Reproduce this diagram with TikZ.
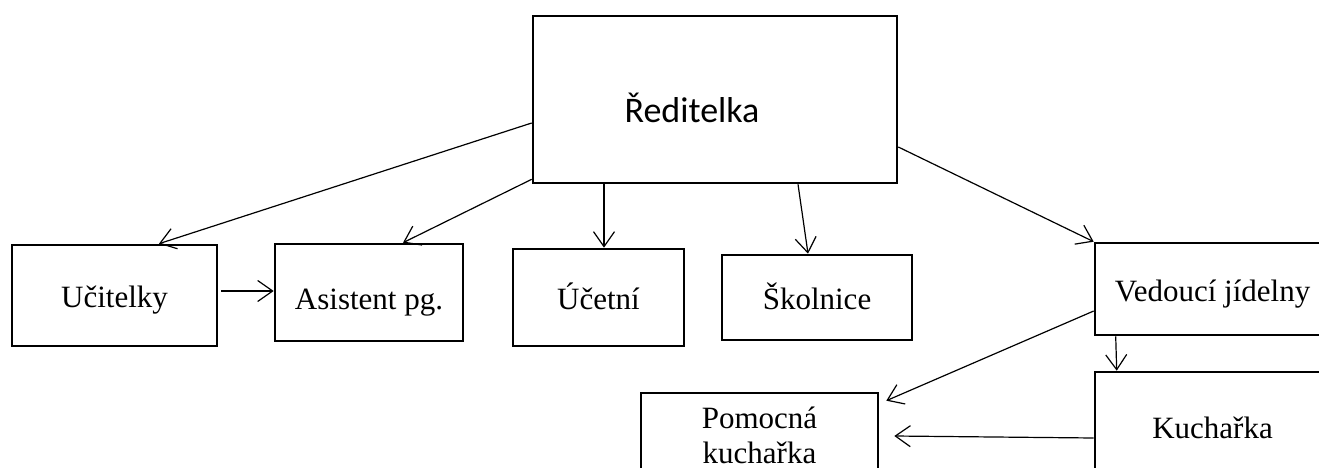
\documentclass[tikz,border=0pt]{standalone}
\usepackage{fontspec}
\setmainfont{Liberation Serif}
\newfontfamily\calibri{Carlito}
\usetikzlibrary{arrows.meta}
\begin{document}
\begin{tikzpicture}[x=1pt,y=-1pt,
  box/.style={draw, line width=2.6pt, rectangle, inner sep=0pt,
    font=\fontsize{31}{35}\selectfont, text height=24pt, text depth=0pt},
  conn/.style={line width=1.2pt, -{Straight Barb[length=15pt,width=21pt,line width=1.2pt]}}]
\clip (0,0) rectangle (1319,468);
\fill[white] (0,0) rectangle (1319,468);
% top box
\node[box, minimum width=364pt, minimum height=167pt] (red) at (715,99.5) {};
\node[font=\calibri\fontsize{36}{40}\selectfont, text height=23pt, text depth=0pt, inner sep=0pt] (redtxt) at (692,111.5) {Ředitelka};
% second row
\node[box, minimum width=205pt, minimum height=101pt] (uc) at (114.5,295.5) {Učitelky};
\node[box, minimum width=188pt, minimum height=97pt, text height=34pt] (as) at (369,292.5) {Asistent pg.};
\node[box, minimum width=171pt, minimum height=97pt] (uce) at (598.5,297.5) {Účetní};
\node[box, minimum width=190pt, minimum height=85pt] (sk) at (817,297.5) {Školnice};
\node[box, minimum width=235pt, minimum height=92pt] (ved) at (1212.5,289) {Vedoucí jídelny};
% third row
\node[box, minimum width=237pt, minimum height=84pt, text height=, text depth=, align=center] (pom) at (759.5,435) {Pomocná\\kuchařka};
\node[box, minimum width=235pt, minimum height=108pt] (ku) at (1212.5,426) {Kuchařka};
% connectors
\draw[conn] ([yshift=-23.5pt]red.west) -- ([xshift=44.5pt]uc.north);
\draw[conn] ([yshift=5pt]red.south west) -- ([xshift=34pt]as.north);
\draw[conn] ([xshift=-111pt]red.south) -- ([xshift=5.5pt]uce.north);
\draw[conn] ([xshift=83pt]red.south) -- ([xshift=-9pt]sk.north);
\draw[conn] ([yshift=-47.5pt]red.east) -- (ved.north west);
\draw[conn] ([yshift=4.5pt,xshift=3pt]uc.east) -- ([yshift=1.5pt]as.west);
\draw[conn] ([yshift=-22pt]ved.west) -- ([xshift=7pt,yshift=-9pt]pom.north east);
\draw[conn] ([xshift=22pt]ved.south west) -- ([xshift=23pt]ku.north west);
\draw[conn] ([yshift=-12pt]ku.west) -- ([xshift=15pt,yshift=-1pt]pom.east);
\end{tikzpicture}
\end{document}
